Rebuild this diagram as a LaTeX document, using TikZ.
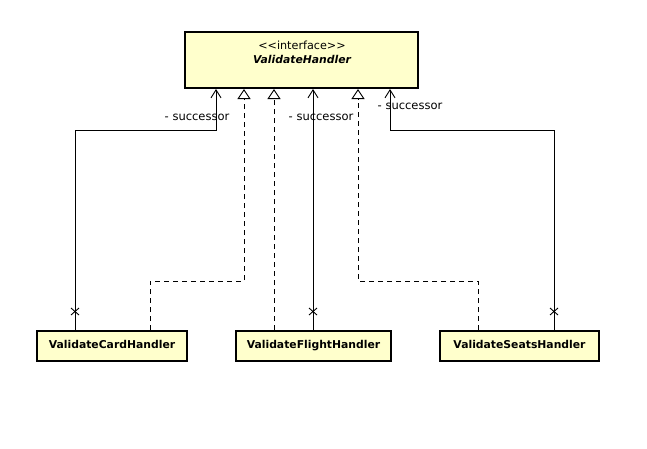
\documentclass[tikz,border=0pt]{standalone}
\usepackage{fontspec}
\setmainfont{DejaVu Sans}
\usetikzlibrary{arrows.meta}
\definecolor{classfill}{RGB}{255,255,204}
\tikzset{
  classbox/.style={draw=black, line width=2pt, fill=classfill, inner sep=0pt, text height=8pt, text depth=4pt, font=\bfseries\fontsize{10.8}{12}\selectfont},
  assoc/.style={line width=0.9pt, -{Straight Barb[length=8pt,width=10pt,line width=0.9pt]}},
  realize/.style={line width=0.9pt, dash pattern=on 5pt off 4pt, -{Triangle[open,length=10pt,width=13pt,line width=0.9pt,fill=white]}},
  lbl/.style={font=\fontsize{11.5}{13}\selectfont, inner sep=0pt},
  xmark/.style={line width=0.9pt}
}
\begin{document}
\begin{tikzpicture}[x=1pt,y=-1pt]
\useasboundingbox (0,0) rectangle (647,448);
\fill[white] (0,0) rectangle (647,448);
% classes
\node[classbox, minimum width=233pt, minimum height=56pt] (iface) at (301.5,60) {};
\node[font=\fontsize{11.2}{13}\selectfont, inner sep=0pt] (ster) at (302,45) {<{}<interface>{}>};
\node[font=\bfseries\itshape\fontsize{10.8}{12}\selectfont, inner sep=0pt] (iname) at (302,59) {ValidateHandler};
\node[classbox, minimum width=150pt, minimum height=30pt] (card) at (112,346) {ValidateCardHandler};
\node[classbox, minimum width=155pt, minimum height=30pt] (flight) at (313.5,346) {ValidateFlightHandler};
\node[classbox, minimum width=159pt, minimum height=30pt] (seats) at (519.5,346) {ValidateSeatsHandler};
% bend points
\coordinate (cb1) at (75,130);
\coordinate (cb2) at (150,281);
\coordinate (sb1) at (554,130);
\coordinate (sb2) at (478,281);
% card
\draw[assoc] (card.north -| cb1) -- (cb1) -| (iface.south -| 216,0);
\draw[realize] (card.north -| cb2) |- (cb2 -| 244,0) -- (iface.south -| 244,0);
% flight
\draw[realize] (flight.north -| 274,0) -- (iface.south -| 274,0);
\draw[assoc] (flight.north -| 313,0) -- (iface.south -| 313,0);
% seats
\draw[realize] (seats.north -| sb2) |- (sb2 -| 358,0) -- (iface.south -| 358,0);
\draw[assoc] (seats.north -| sb1) -- (sb1) -| (iface.south -| 390,0);
% x marks
\foreach \xx in {75,313,554}{
  \draw[xmark] (\xx-4,308) -- (\xx+4,315) (\xx+4,308) -- (\xx-4,315);
}
% labels
\node[lbl] (l1) at (197,117) {- successor};
\node[lbl] (l2) at (321,117) {- successor};
\node[lbl] (l3) at (410,106) {- successor};
\end{tikzpicture}
\end{document}
